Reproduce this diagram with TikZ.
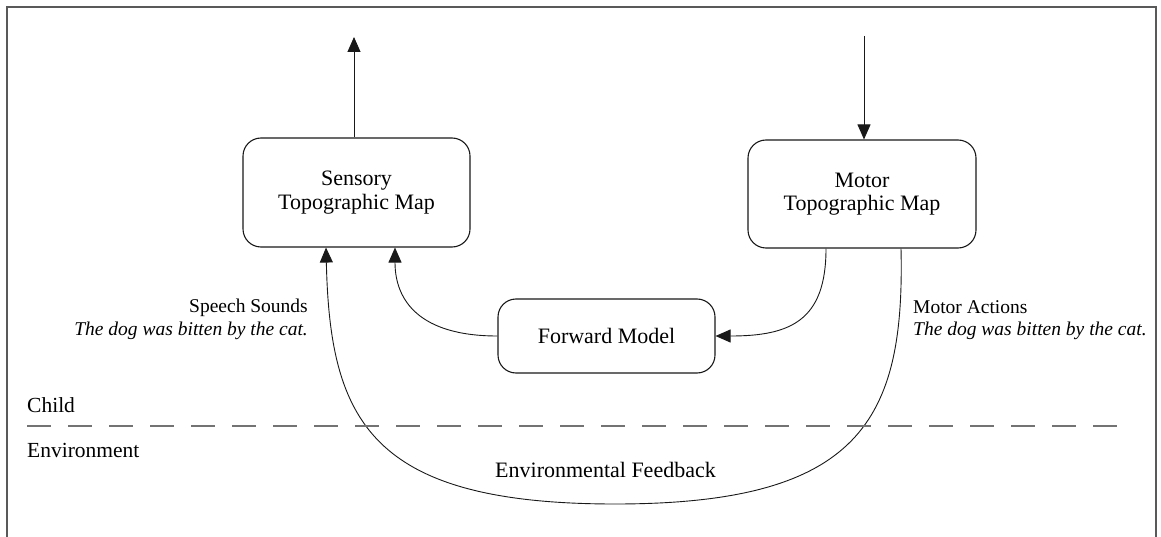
\documentclass[tikz,border=0pt]{standalone}
\usepackage{fontspec}
\setmainfont{Liberation Serif}
\usetikzlibrary{arrows.meta}
\begin{document}
\begin{tikzpicture}[x=1pt,y=-1pt,
  box/.style={draw=black!90, line width=1.1pt, rounded corners=18pt, align=center, inner sep=0pt, font=\fontsize{22}{23.5}\selectfont},
  conn/.style={draw=black!90, line width=0.9pt},
  arr/.style={conn, -{Triangle[length=15pt,width=13pt]}},
  lbl/.style={font=\fontsize{19.5}{23}\selectfont, inner sep=0pt},
  big/.style={font=\fontsize{22}{25}\selectfont, inner sep=0pt},
  sidelbl/.style={font=\fontsize{21.5}{25}\selectfont, inner sep=0pt},
  frame/.style={draw=black!65, line width=2pt},
  divider/.style={draw=black!55, line width=1.5pt, dash pattern=on 24pt off 17pt}]
\useasboundingbox (0,0) rectangle (1161,537);
\draw[frame] (7,537) -- (7,7) -- (1156,7) -- (1156,537);

% boxes
\node[box, minimum width=227pt, minimum height=109pt] (sens) at (356.5,192.5) {Sensory\\Topographic Map};
\node[box, minimum width=228pt, minimum height=108pt] (motor) at (862,194) {Motor\\Topographic Map};
\node[box, minimum width=217pt, minimum height=74pt] (fwd) at (606.5,336) {Forward Model};

% vertical arrows
\coordinate (top1) at (354,37);
\coordinate (top2) at (864,36);
\draw[arr] (sens.north -| top1) -- (top1);
\draw[arr] (top2) -- (top2 |- motor.north);

% forward model to sensory
\draw[arr] (fwd.west) .. controls +(-78,0) and +(0,53) .. ([xshift=38.5pt]sens.south);
% motor to forward model
\draw[arr] ([xshift=-36pt]motor.south) .. controls +(0,72) and +(75,0) .. (fwd.east);
% environmental loop
\coordinate (envbot) at (615,504);
\draw[arr] ([xshift=39pt]motor.south) .. controls +(4,172) and +(245,0) .. (envbot)
  .. controls +(-245,0) and +(4,173) .. ([xshift=-30.5pt]sens.south);

% divider
\coordinate (dl) at (27,426);
\coordinate (dr) at (1118,426);
\draw[divider] (dl) -- (dr);

% labels
\node[sidelbl, anchor=base west] (child) at (27,412) {Child};
\node[sidelbl, anchor=base west] (envt) at (27,457) {Environment};
\node[big, anchor=base] (fb) at (605.5,477) {Environmental Feedback};
\node[lbl, anchor=base east] (ss) at (308,312) {Speech Sounds};
\node[lbl, anchor=base east] (ss2) at (308,335) {\itshape The dog was bitten by the cat.};
\node[lbl, anchor=base west] (ma) at (913,313) {Motor Actions};
\node[lbl, anchor=base west] (ma2) at (913,335) {\itshape The dog was bitten by the cat.};
\end{tikzpicture}
\end{document}
